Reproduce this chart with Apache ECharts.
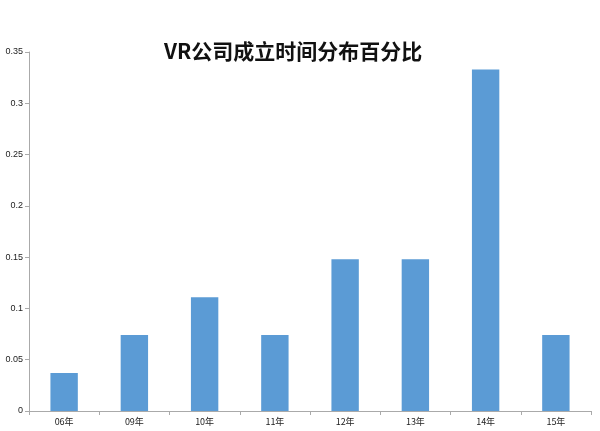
<!DOCTYPE html>
<html><head><meta charset="utf-8">
<script src="https://cdn.jsdelivr.net/npm/echarts@6/dist/echarts.min.js"></script>
<style>html,body{margin:0;padding:0;background:#fff}#c{width:600px;height:431px}</style>
</head><body><div id="c"></div>
<script>
var titleText = 'VR公司成立时间分布百分比';
var categories = ['06年','09年','10年','11年','12年','13年','14年','15年'];
var values = [0.037, 0.074, 0.111, 0.074, 0.148, 0.148, 0.333, 0.074];
var chart = echarts.init(document.getElementById('c'));
chart.setOption({
  animation: false,
  backgroundColor: '#fff',
  title: {
    text: titleText, left: 159, top: 36,
    textStyle: { fontSize: 21, fontWeight: 'bold', color: '#111', fontFamily: 'Noto Sans CJK SC' }
  },
  grid: { left: 29, right: 9, top: 52, bottom: 20 },
  xAxis: {
    type: 'category', data: categories,
    axisLine: { lineStyle: { color: '#aaa' } },
    axisTick: { show: true, alignWithLabel: false, length: 4, lineStyle: { color: '#aaa' } },
    axisLabel: { fontSize: 9, color: '#222', margin: 6, fontFamily: 'Noto Sans CJK SC' }
  },
  yAxis: {
    type: 'value', min: 0, max: 0.35, interval: 0.05,
    axisLine: { show: true, lineStyle: { color: '#aaa' } },
    axisTick: { show: true, length: 4, lineStyle: { color: '#aaa' } },
    splitLine: { show: false },
    axisLabel: { fontSize: 9, color: '#222', margin: 6,
      formatter: function (v) { return +v.toFixed(2) + ''; } }
  },
  series: [{
    type: 'bar', data: values, barWidth: '39%',
    itemStyle: { color: '#5B9BD5' }
  }]
});
</script></body></html>
